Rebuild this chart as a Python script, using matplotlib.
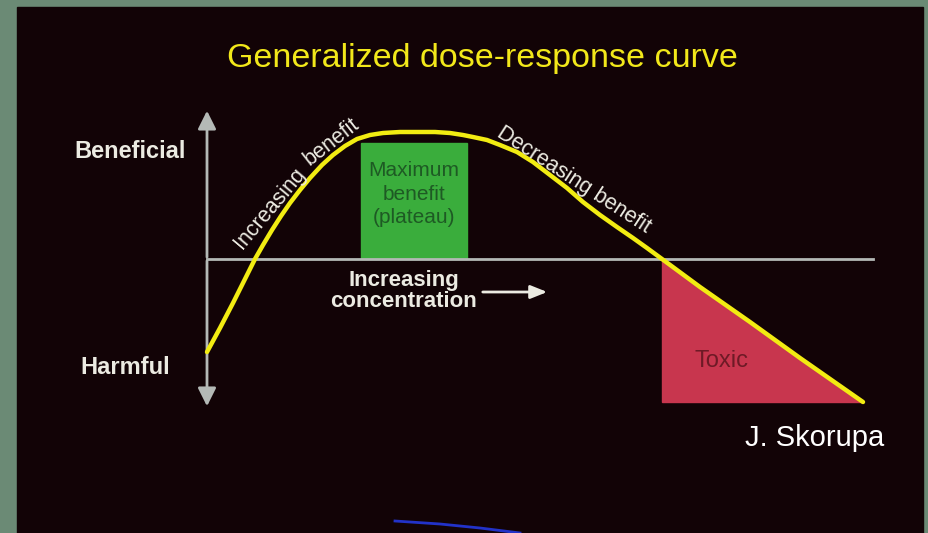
import numpy as np
import matplotlib.pyplot as plt
from matplotlib.patches import Rectangle, Polygon

# Dose-response curve (pixel-like units, y grows downward)
curve_x = [207, 220, 233, 245, 255, 263, 272, 281, 290, 300, 310, 322, 333, 345,
           357, 370, 383, 400, 417, 435, 450, 463, 473, 487, 500, 517, 533, 550,
           567, 583, 600, 617, 633, 647, 662, 700, 750, 800, 863]
curve_y = [352, 328, 303, 279, 259, 245, 230, 216, 203, 190, 178, 165, 155, 146,
           139, 135, 133, 132, 132, 132, 133, 135, 137, 140, 145, 152, 162, 175,
           188, 202, 215, 227, 238, 248, 259, 287, 322, 358, 402]

# Regions
plateau_x = [361, 467]
plateau_y = [143, 259]
toxic_x = [662, 662, 863]
toxic_y = [259, 402, 402]

baseline_y = 259
axis_x = 207

blue_x = [395, 440, 480, 520]
blue_y = [521, 524, 528, 533]

title = "Generalized dose-response curve"

BG = "#120306"
FRAME = "#6b8a75"
GRAY = "#b4b9b6"
WHITE = "#ecebe2"

plt.rcParams['font.family'] = ["Liberation Sans Narrow", "Liberation Sans", "DejaVu Sans"]

fig = plt.figure(figsize=(9.29, 5.33), dpi=100, facecolor=FRAME)
ax = fig.add_axes([0, 0, 1, 1])
ax.set_xlim(0, 929)
ax.set_ylim(533, 0)
ax.axis("off")

# slide background
ax.add_patch(Rectangle((17, 7), 906, 530, color=BG, zorder=0))

# green plateau box
ax.add_patch(Rectangle((plateau_x[0], plateau_y[0]), plateau_x[1] - plateau_x[0],
                       plateau_y[1] - plateau_y[0], color="#3aad3c", zorder=1))
ax.text(np.mean(plateau_x), 194, "Maximum\nbenefit\n(plateau)", color="#1e5a24",
        ha="center", va="center", fontsize=15, linespacing=1.3, zorder=2)

# toxic triangle
ax.add_patch(Polygon(list(zip(toxic_x, toxic_y)), closed=True, color="#c8364e", zorder=1))
ax.text(722, 361, "Toxic", color="#6e1a26", ha="center", va="center",
        fontsize=17, zorder=2)

# axes
ax.plot([axis_x, 873], [baseline_y, baseline_y], color=GRAY, lw=2, zorder=2)
ax.annotate("", xy=(axis_x, 108), xytext=(axis_x, 260),
            arrowprops=dict(arrowstyle="-|>,head_length=1.1,head_width=0.55",
                            color=GRAY, lw=2), zorder=2)
ax.annotate("", xy=(axis_x, 409), xytext=(axis_x, 258),
            arrowprops=dict(arrowstyle="-|>,head_length=1.1,head_width=0.55",
                            color=GRAY, lw=2), zorder=2)

# curve
ax.plot(curve_x, curve_y, color="#f2ec12", lw=3.2, solid_capstyle="round",
        solid_joinstyle="round", zorder=3)

# labels
ax.text(482, 58, title, color="#f2e81a", ha="center", va="center",
        fontsize=24.5, zorder=4)
ax.text(130, 152, "Beneficial", color=WHITE, ha="center", va="center",
        fontsize=17, fontweight="bold")
ax.text(125, 367, "Harmful", color=WHITE, ha="center", va="center",
        fontsize=17, fontweight="bold")

ax.text(270, 208, "Increasing", color=WHITE, ha="center", va="center",
        fontsize=15.5, rotation=50, rotation_mode="anchor")
ax.text(332, 142, "benefit", color=WHITE, ha="center", va="center",
        fontsize=15.5, rotation=38, rotation_mode="anchor")
ax.text(574, 180, "Decreasing benefit", color=WHITE, ha="center", va="center",
        fontsize=15.5, rotation=-33, rotation_mode="anchor")

ax.text(404, 291, "Increasing\nconcentration", color=WHITE, ha="center",
        va="center", fontsize=16, fontweight="bold", linespacing=1.0)
ax.annotate("", xy=(550, 292), xytext=(480, 292),
            arrowprops=dict(arrowstyle="-|>,head_length=1.0,head_width=0.4",
                            color=WHITE, lw=2))

ax.text(815, 438, "J. Skorupa", color="white", ha="center", va="center",
        fontsize=21, family=["Liberation Sans", "DejaVu Sans"])

ax.plot(blue_x, blue_y, color="#2232c8", lw=2, zorder=2)

fig.savefig("out.png", dpi=100, facecolor=FRAME)
